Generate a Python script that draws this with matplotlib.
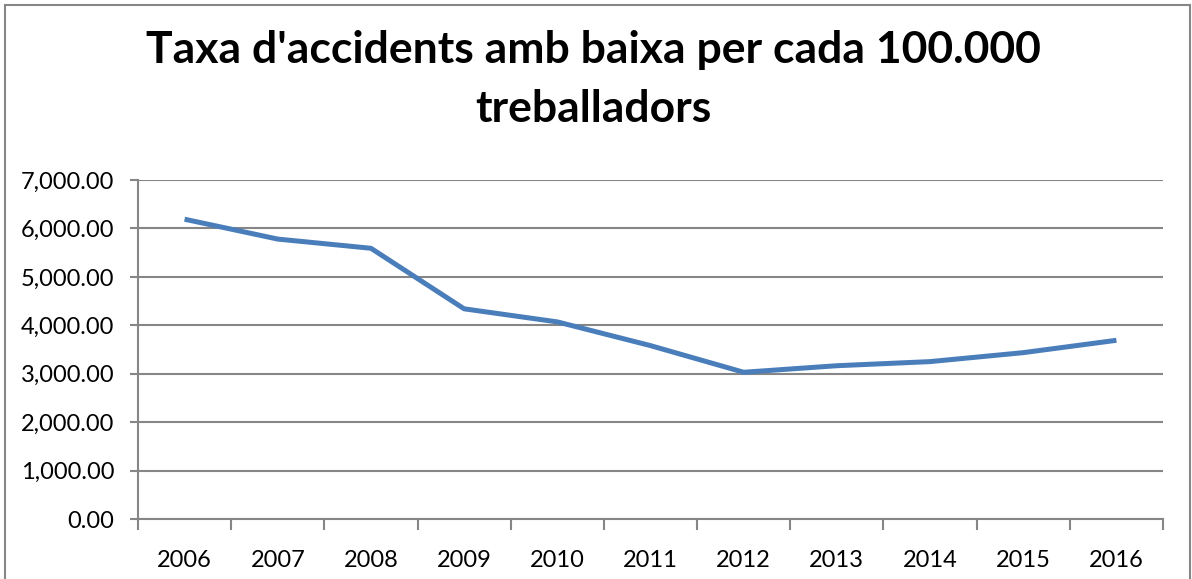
import numpy as np
from matplotlib import pyplot as plt
from matplotlib.patches import Rectangle
from matplotlib.ticker import FuncFormatter

plt.rcParams['font.family'] = ['Lato', 'DejaVu Sans']

# dades
anys = ['2006', '2007', '2008', '2009', '2010', '2011', '2012', '2013', '2014', '2015', '2016']
taxa = [6190, 5780, 5590, 4340, 4070, 3580, 3030, 3165, 3250, 3435, 3690]
yticks = [0, 1000, 2000, 3000, 4000, 5000, 6000, 7000]

fig = plt.figure(figsize=(11.92, 5.79), dpi=100)
# marc exterior
fig.patches.append(Rectangle((5/1192, -0.05), 1185/1192, 1.05 - 5/579, transform=fig.transFigure,
                             fill=False, edgecolor='#868686', linewidth=1.5))

ax = fig.add_axes([138/1192, 60/579, 1025/1192, 339/579])
x = np.arange(len(anys))
ax.plot(x, taxa, color='#4A7EBB', linewidth=3.6, solid_capstyle='butt')

ax.set_xlim(-0.5, len(anys) - 0.5)
ax.set_ylim(0, 7000)
ax.set_yticks(yticks)
ax.yaxis.set_major_formatter(FuncFormatter(lambda v, p: '{:,.2f}'.format(v)))
ax.set_xticks(x)
ax.set_xticklabels(anys)
ax.set_xticks(np.arange(-0.5, len(anys)), minor=True)
ax.tick_params(axis='x', which='major', length=0, pad=22, labelsize=17)
ax.tick_params(axis='x', which='minor', length=8, width=1.5, color='#868686', direction='out')
ax.tick_params(axis='y', length=6, width=1.5, color='#868686', labelsize=17, pad=11)
ax.grid(axis='y', color='#868686', linewidth=1.5)
ax.set_axisbelow(True)
for s in ['top', 'right']:
    ax.spines[s].set_visible(False)
for s in ['left', 'bottom']:
    ax.spines[s].set_color('#868686')
    ax.spines[s].set_linewidth(1.5)

fig.text(593/1192, 1 - 50/579, "Taxa d'accidents amb baixa per cada 100.000", ha='center', va='center',
         fontsize=32, fontweight='bold')
fig.text(593/1192, 1 - 109/579, "treballadors", ha='center', va='center', fontsize=32, fontweight='bold')

fig.savefig('out.png', dpi=100)
